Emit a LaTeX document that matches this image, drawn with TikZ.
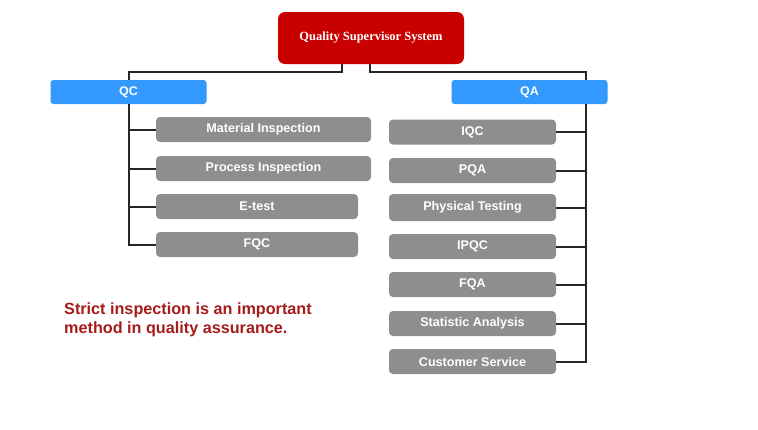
\documentclass[tikz,border=0pt]{standalone}
\usepackage{fontspec}
\setmainfont{Liberation Sans}
\newfontfamily\titlefont{Liberation Serif}
\definecolor{sysred}{HTML}{C80000}
\definecolor{deptblue}{HTML}{3399FF}
\definecolor{taskgray}{HTML}{8E8E8E}
\definecolor{notered}{HTML}{A51A1A}

\begin{document}
\begin{tikzpicture}[x=1pt,y=-1pt,
        supervisor/.style={fill=sysred,rounded corners=7pt,minimum width=186pt,minimum height=52pt,
            text=white,font=\titlefont\bfseries\fontsize{12.5}{14}\selectfont},
        dept/.style={fill=deptblue,rounded corners=3pt,minimum width=156pt,minimum height=24pt,
            text=white,font=\bfseries\fontsize{12.5}{14}\selectfont},
        task/.style={fill=taskgray,rounded corners=4pt,minimum height=25pt,inner sep=0pt,
            text=white,font=\bfseries\fontsize{12.6}{14}\selectfont},
        link/.style={line width=2pt,black!85}]
                \useasboundingbox (0,0) rectangle (758,429);
                \node[supervisor] (qss) at (371,38) {Quality Supervisor System};
                \node[dept] (qc) at (128.5,92) {QC};
                \node[dept] (qa) at (529.5,92) {QA};
                % QC side
                \node[task,minimum width=215pt] (mi) at (263.5,129.5) {Material Inspection};
                \node[task,minimum width=215pt] (pi) at (263.5,168.5) {Process Inspection};
                \node[task,minimum width=202pt] (et) at (257,206.5) {E-test};
                \node[task,minimum width=202pt] (fqc) at (257,244.5) {FQC};
                % QA side
                \node[task,minimum width=167pt] (iqc) at (472.5,132) {IQC};
                \node[task,minimum width=167pt] (pqa) at (472.5,170.5) {PQA};
                \node[task,minimum width=167pt,minimum height=27pt] (pt) at (472.5,207.5) {Physical Testing};
                \node[task,minimum width=167pt] (ipqc) at (472.5,246.5) {IPQC};
                \node[task,minimum width=167pt] (fqa) at (472.5,284.5) {FQA};
                \node[task,minimum width=167pt] (sa) at (472.5,323.5) {Statistic Analysis};
                \node[task,minimum width=167pt] (cs) at (472.5,361.5) {Customer Service};
                \coordinate (qatrunk) at (586,104);
                % connectors
                \draw[link] ([xshift=-29pt]qss.south) -- ++(0,8) -| (qc.north);
                \draw[link] ([xshift=-1pt]qss.south) -- ++(0,8) -| (qatrunk |- qa.north);
                \draw[link] (qc.south) |- (fqc.west);
                \draw[link] (qc.south |- mi.west) -- (mi.west);
                \draw[link] (qc.south |- pi.west) -- (pi.west);
                \draw[link] (qc.south |- et.west) -- (et.west);
                \draw[link] (qatrunk) |- (cs.east);
                \draw[link] (qatrunk |- iqc.east) -- (iqc.east);
                \draw[link] (qatrunk |- pqa.east) -- (pqa.east);
                \draw[link] (qatrunk |- pt.east) -- (pt.east);
                \draw[link] (qatrunk |- ipqc.east) -- (ipqc.east);
                \draw[link] (qatrunk |- fqa.east) -- (fqa.east);
                \draw[link] (qatrunk |- sa.east) -- (sa.east);
                \node[anchor=north west,align=left,text=notered,inner sep=0pt,
                    font=\bfseries\fontsize{16.2}{18.5}\selectfont] (note) at (64,303)
                    {Strict inspection is an important\\method in quality assurance.};
            \end{tikzpicture}
\end{document}
